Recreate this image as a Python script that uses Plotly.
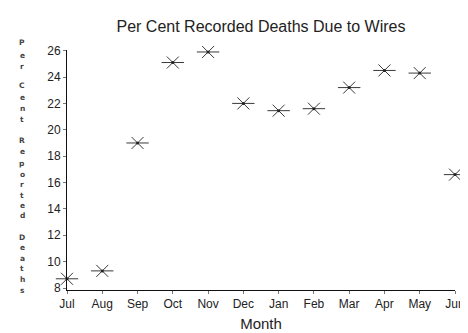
import plotly.graph_objects as go

months = ["Jul", "Aug", "Sep", "Oct", "Nov", "Dec", "Jan", "Feb", "Mar", "Apr", "May", "Jun"]
pct_deaths = [8.7, 9.3, 19.0, 25.1, 25.9, 22.0, 21.45, 21.6, 23.2, 24.5, 24.3, 16.6]
y_ticks = [8, 10, 12, 14, 16, 18, 20, 22, 24, 26]
title = "Per Cent Recorded Deaths Due to Wires"
x_title = "Month"
y_title_words = ["Per", "Cent", "Reported", "Deaths"]

W, H = 468, 333
L, R, T, B = 59, 11, 42, 44
font_family = "Liberation Sans, Arial, Helvetica, sans-serif"
ink = "#222222"
mark = "#3a3a3a"

fig = go.Figure()
common = dict(x=months, y=pct_deaths, mode="markers", showlegend=False, cliponaxis=False, hoverinfo="skip")
fig.add_trace(go.Scatter(**common, marker=dict(symbol="x-thin-open", size=12, color=mark, line=dict(color=mark, width=1))))
fig.add_trace(go.Scatter(**common, marker=dict(symbol="line-ew-open", size=16, color=mark, line=dict(color=mark, width=1))))
fig.add_trace(go.Scatter(**common, marker=dict(symbol="circle", size=3, color="#222222", line=dict(width=0))))

fig.update_layout(
    width=W, height=H,
    margin=dict(l=L, r=R, t=T, b=B, pad=0),
    paper_bgcolor="white", plot_bgcolor="white",
    font=dict(family=font_family, color=ink, size=12),
    title=dict(text=title, x=0.5, xref="paper", y=1 - 18 / H, yref="container",
               yanchor="middle", xanchor="center", font=dict(size=16, color=ink)),
    xaxis=dict(type="category", range=[0, 11], showgrid=False, zeroline=False,
               showline=True, linecolor="#111111", linewidth=1,
               ticks="outside", ticklen=3, tickcolor="#777777",
               tickfont=dict(size=12, color=ink),
               title=dict(text=x_title, font=dict(size=15, color=ink), standoff=8)),
    yaxis=dict(range=[7.85, 26.05], showgrid=False, zeroline=False,
               showline=True, linecolor="#111111", linewidth=1,
               tickvals=y_ticks, ticks="outside", ticklen=3, tickcolor="#777777",
               tickfont=dict(size=12, color=ink)),
)

# stacked vertical y-axis title, one letter per line
letter_py = [34.3, 47.3, 59.3, 79, 90.7, 102.7, 114, 135, 146.7, 158.3, 170, 180.7,
             191.7, 202.3, 212.7, 235, 245.7, 256.7, 267.3, 278.3, 290]
letters = [c for w in y_title_words for c in w]
plot_h = H - T - B
for ch, py in zip(letters, letter_py):
    fig.add_annotation(text="<b>" + ch + "</b>", xref="paper", yref="paper",
                       x=(13 - L) / (W - L - R), y=(H - B - py) / plot_h,
                       showarrow=False, xanchor="center", yanchor="middle",
                       font=dict(size=7.5, color="#444444", family="DejaVu Sans"))

fig.write_html("out.html")
